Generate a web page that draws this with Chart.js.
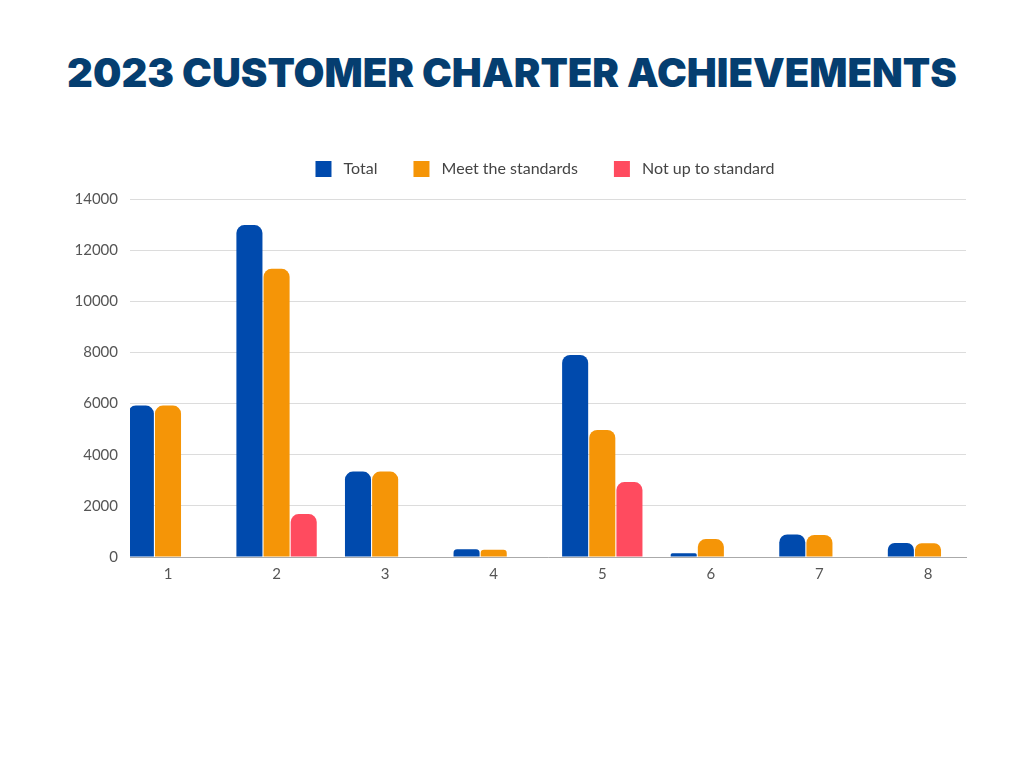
<!DOCTYPE html>
<html>
<head>
<meta charset="utf-8">
<script src="https://cdn.jsdelivr.net/npm/chart.js@4.4.1/dist/chart.umd.min.js"></script>
<style>
  html, body { margin: 0; padding: 0; background: #fff; }
  body { width: 1024px; height: 768px; position: relative; overflow: hidden; }
  #title {
    position: absolute; left: 0; top: 48px; width: 1024px; margin: 0;
    text-align: center; font-family: Inter, "DejaVu Sans", sans-serif;
    font-weight: 900; font-size: 40px; color: #053e70; letter-spacing: 0;
    white-space: nowrap;
  }
  #wrap { position: absolute; left: 0; top: 115px; width: 1024px; height: 478px; }
</style>
</head>
<body>
<h1 id="title">2023 CUSTOMER CHARTER ACHIEVEMENTS</h1>
<div id="wrap"><canvas id="chart"></canvas></div>
<script>
const CATEGORIES = ["1", "2", "3", "4", "5", "6", "7", "8"]

const TOTAL = [5920, 12980, 3340, 300, 7900, 150, 880, 550]
const MEET = [5920, 11270, 3340, 280, 4970, 700, 860, 540]
const NOT_UP = [null, 1680, null, null, 2930, null, null, null]

const Y_TICKS = [0, 2000, 4000, 6000, 8000, 10000, 12000, 14000]

const COLORS = {
  total: "#004aad",
  meet: "#f59507",
  notUp: "#ff4b5f"
}

const FONT = "Lato, 'Open Sans', sans-serif"

function points(values) {
  return values.map((v, i) => ({ x: i, y: v }))
}

function series(label, values, color) {
  return {
    label: label,
    data: points(values),
    backgroundColor: color,
    borderRadius: 8,
    borderSkipped: "start",
    categoryPercentage: 0.75,
    barPercentage: 0.96
  }
}

// more room under the legend, and the legend sits a bit right of centre
const legendTweak = {
  id: "legendTweak",
  beforeInit(chart) {
    const fit = chart.legend.fit
    chart.legend.fit = function () {
      fit.bind(chart.legend)()
      this.height += 12
    }
  },
  afterLayout(chart) {
    chart.legend.left += 32
    chart.legend.right += 32
  }
}

new Chart(document.getElementById("chart"), {
  type: "bar",
  data: {
    datasets: [
      series("Total", TOTAL, COLORS.total),
      series("Meet the standards", MEET, COLORS.meet),
      series("Not up to standard", NOT_UP, COLORS.notUp)
    ]
  },
  plugins: [legendTweak],
  options: {
    responsive: true,
    maintainAspectRatio: false,
    animation: false,
    layout: { padding: { left: 60, right: 58, top: 10, bottom: 10 } },
    plugins: {
      tooltip: { enabled: false },
      legend: {
        position: "top",
        labels: {
          boxWidth: 16,
          boxHeight: 16,
          padding: 36,
          color: "#444",
          font: { family: FONT, size: 16 },
          generateLabels: chart => {
            const items = Chart.defaults.plugins.legend.labels.generateLabels(chart)
            items.forEach(it => { it.text = " " + it.text; it.lineWidth = 0 })
            return items
          }
        }
      }
    },
    scales: {
      x: {
        type: "linear",
        min: -0.35,
        max: CATEGORIES.length - 0.65,
        offset: false,
        grid: { display: false },
        border: { display: true, color: "#aaa", width: 1 },
        ticks: {
          stepSize: 1,
          includeBounds: false,
          autoSkip: false,
          maxRotation: 0,
          padding: 0,
          color: "#555",
          font: { family: FONT, size: 15 },
          callback: v => CATEGORIES[v] || ""
        }
      },
      y: {
        min: Y_TICKS[0],
        max: Y_TICKS[Y_TICKS.length - 1],
        afterBuildTicks: axis => { axis.ticks = Y_TICKS.map(v => ({ value: v })) },
        afterFit: axis => { axis.width = 70 },
        grid: { color: "#dcdcdc", drawTicks: false, lineWidth: 1 },
        border: { display: false },
        ticks: {
          padding: 12,
          color: "#555",
          font: { family: FONT, size: 15 },
          callback: v => String(v)
        }
      }
    }
  }
})
</script>
</body>
</html>
